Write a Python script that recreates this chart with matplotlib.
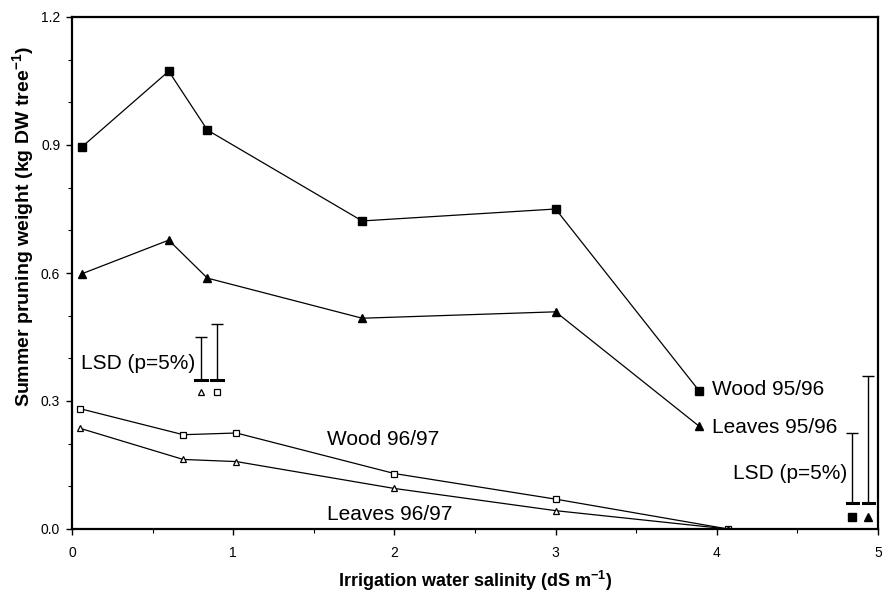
#!/usr/bin/env python3
import numpy as np
import matplotlib
matplotlib.use("Agg")
import matplotlib.pyplot as plt
from matplotlib.ticker import MultipleLocator, FormatStrFormatter

plt.rcParams['font.family'] = ['Liberation Sans', 'DejaVu Sans']
plt.rcParams['mathtext.fontset'] = 'custom'
plt.rcParams['mathtext.rm'] = 'Liberation Sans'
plt.rcParams['mathtext.bf'] = 'Liberation Sans:bold'

# season 1995/96
x_9596 = [0.06, 0.60, 0.84, 1.80, 3.00, 3.89]
wood_9596 = [0.895, 1.073, 0.935, 0.722, 0.750, 0.324]
leaves_9596 = [0.598, 0.677, 0.588, 0.494, 0.509, 0.241]

# season 1996/97
x_9697 = [0.05, 0.69, 1.02, 2.00, 3.00, 4.07]
wood_9697 = [0.282, 0.221, 0.225, 0.130, 0.070, 0.0]
leaves_9697 = [0.236, 0.163, 0.158, 0.095, 0.043, 0.0]

# least significant differences (bar base, length)
lsd_9697_base = 0.349
lsd_9697_leaves = 0.100
lsd_9697_wood = 0.131
lsd_9596_base = 0.061
lsd_9596_wood = 0.164
lsd_9596_leaves = 0.298


def lsd_bar(ax, x, base, length):
    ax.errorbar([x], [base], yerr=[[0], [length]], fmt='none', ecolor='k',
                elinewidth=1.0, capsize=4, capthick=1.0)
    ax.plot([x - 0.035, x + 0.035], [base, base], 'k-', lw=2.2)


def plot_pruning():
    fig = plt.figure(figsize=(8.82, 5.94), dpi=100)
    ax = fig.add_axes([72 / 882, 1 - 529 / 594, 806 / 882, 512 / 594])

    ax.plot(x_9596, wood_9596, 'k-', lw=0.9, marker='s', ms=5.5, mfc='k', mec='k')
    ax.plot(x_9596, leaves_9596, 'k-', lw=0.9, marker='^', ms=5.5, mfc='k', mec='k')
    ax.plot(x_9697, wood_9697, 'k-', lw=0.9, marker='s', ms=5, mfc='white', mec='k', mew=0.9)
    ax.plot(x_9697, leaves_9697, 'k-', lw=0.9, marker='^', ms=5, mfc='white', mec='k', mew=0.9)

    # LSD bars, 96/97
    lsd_bar(ax, 0.80, lsd_9697_base, lsd_9697_leaves)
    lsd_bar(ax, 0.90, lsd_9697_base, lsd_9697_wood)
    ax.plot([0.80], [0.321], marker='^', ms=5, mfc='white', mec='k', mew=0.9, ls='none')
    ax.plot([0.90], [0.321], marker='s', ms=5, mfc='white', mec='k', mew=0.9, ls='none')
    ax.text(0.763, 0.389, "LSD (p=5%)", ha='right', va='center', fontsize=15)

    # LSD bars, 95/96
    lsd_bar(ax, 4.84, lsd_9596_base, lsd_9596_wood)
    lsd_bar(ax, 4.94, lsd_9596_base, lsd_9596_leaves)
    ax.plot([4.84], [0.028], marker='s', ms=5.5, mfc='k', mec='k', ls='none')
    ax.plot([4.94], [0.028], marker='^', ms=5.5, mfc='k', mec='k', ls='none')
    ax.text(4.81, 0.131, "LSD (p=5%)", ha='right', va='center', fontsize=15)

    ax.text(3.97, 0.326, "Wood 95/96", ha='left', va='center', fontsize=15)
    ax.text(3.97, 0.237, "Leaves 95/96", ha='left', va='center', fontsize=15)
    ax.text(1.58, 0.209, "Wood 96/97", ha='left', va='center', fontsize=15)
    ax.text(1.58, 0.035, "Leaves 96/97", ha='left', va='center', fontsize=15)

    ax.set_xlim(0, 5)
    ax.set_ylim(0, 1.2)
    ax.xaxis.set_major_locator(MultipleLocator(1))
    ax.xaxis.set_minor_locator(MultipleLocator(0.5))
    ax.yaxis.set_major_locator(MultipleLocator(0.3))
    ax.yaxis.set_minor_locator(MultipleLocator(0.1))
    ax.yaxis.set_major_formatter(FormatStrFormatter('%.1f'))
    ax.tick_params(which='major', direction='out', length=4.5, width=1.0,
                   labelsize=10, pad=4)
    ax.tick_params(which='minor', direction='out', length=3, width=0.8)
    ax.tick_params(axis='x', which='major', pad=8)
    for s in ax.spines.values():
        s.set_linewidth(1.6)

    ax.set_xlabel(r"Irrigation water salinity (dS m$^{\mathbf{-1}}$)",
                  fontsize=13, fontweight='bold')
    ax.set_ylabel(r"Summer pruning weight (kg DW tree$^{\mathbf{-1}}$)",
                  fontsize=14, fontweight='bold')
    ax.xaxis.set_label_coords(0.5, -0.078)
    ax.yaxis.set_label_coords(-0.043, 0.59)

    fig.savefig("out.png", dpi=100)
    return


if __name__ == '__main__':
    plot_pruning()
    print("DONE")
